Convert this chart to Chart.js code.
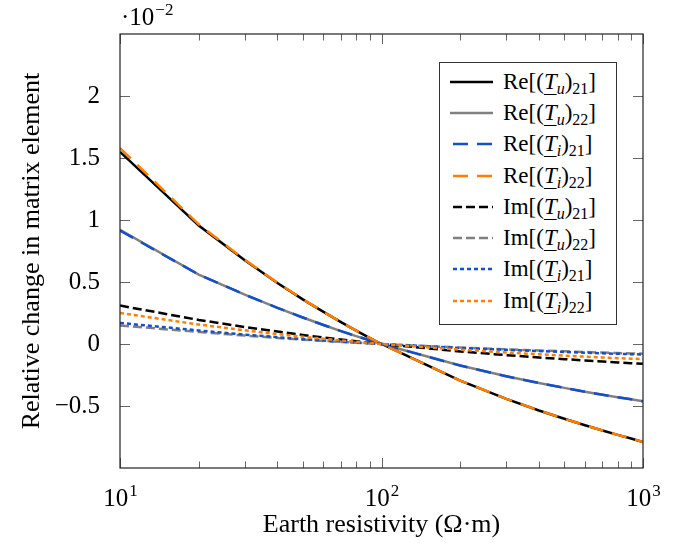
<!DOCTYPE html>
<html>
<head>
<meta charset="utf-8">
<script src="https://cdn.jsdelivr.net/npm/chart.js@4.4.1/dist/chart.umd.min.js"></script>
<style>
    html, body { margin: 0; padding: 0; background: #fff; }
    #wrap { position: relative; width: 678px; height: 543px; }
    #legend {
        position: absolute; left: 439px; top: 62px; width: 178px; height: 263px;
        box-sizing: border-box; border: 1px solid #333; background: #fff;
        font-family: 'Liberation Serif', serif; font-size: 23px; color: #000;
        padding-top: 3px; white-space: nowrap;
    }
    #legend .row { height: 31.3px; display: flex; align-items: center; }
    #legend svg { margin-left: 10px; margin-right: 10px; flex: none; }
    #legend sub { font-size: 16px; vertical-align: -5px; line-height: 0; }
    #legend u { text-decoration-thickness: 1px; text-underline-offset: 5px; }
</style>
</head>
<body>
<div id="wrap">
    <canvas id="chart" width="678" height="543"></canvas>
    <div id="legend"></div>
</div>
<script>
// Earth resistivity (Ohm m), sample points
const resistivity = [10, 20, 30, 40, 50, 60, 70, 80, 90, 100, 200, 300, 400, 500, 600, 700, 800, 900, 1000];

// relative change, x 1e-2
const reTu21 = [1.55, 0.955, 0.675, 0.492, 0.36, 0.259, 0.177, 0.108, 0.05, 0, -0.295, -0.442, -0.536, -0.603, -0.655, -0.698, -0.733, -0.762, -0.79];
const reTu22 = [0.92, 0.56, 0.398, 0.292, 0.214, 0.153, 0.104, 0.064, 0.03, 0, -0.174, -0.26, -0.315, -0.354, -0.385, -0.409, -0.429, -0.446, -0.462];
const reTi21 = [0.915, 0.56, 0.398, 0.292, 0.214, 0.153, 0.104, 0.064, 0.03, 0, -0.174, -0.26, -0.315, -0.354, -0.385, -0.409, -0.429, -0.446, -0.462];
const reTi22 = [1.58, 0.965, 0.68, 0.494, 0.361, 0.259, 0.177, 0.108, 0.05, 0, -0.295, -0.442, -0.536, -0.603, -0.655, -0.698, -0.733, -0.762, -0.79];
const imTu21 = [0.31, 0.194, 0.137, 0.1, 0.073, 0.052, 0.036, 0.022, 0.01, 0, -0.06, -0.09, -0.109, -0.122, -0.133, -0.142, -0.149, -0.155, -0.16];
const imTu22 = [0.15, 0.097, 0.068, 0.049, 0.035, 0.025, 0.017, 0.011, 0.005, 0, -0.029, -0.043, -0.052, -0.059, -0.065, -0.069, -0.073, -0.076, -0.078];
const imTi21 = [0.17, 0.109, 0.076, 0.055, 0.039, 0.028, 0.019, 0.012, 0.005, 0, -0.032, -0.047, -0.057, -0.064, -0.07, -0.075, -0.079, -0.082, -0.085];
const imTi22 = [0.25, 0.157, 0.11, 0.08, 0.058, 0.042, 0.029, 0.018, 0.008, 0, -0.046, -0.069, -0.083, -0.094, -0.102, -0.109, -0.114, -0.118, -0.121];

const xMajor = [10, 100, 1000];
const xMinor = [20, 30, 40, 50, 60, 70, 80, 90, 200, 300, 400, 500, 600, 700, 800, 900];
const yMajor = [-0.5, 0, 0.5, 1, 1.5, 2];

const BLUE = '#1450c8';
const ORANGE = '#ff8000';
const GRAY = '#808080';
const FONT = "'Liberation Serif', serif";

function series(label, values, color, dash, order) {
    return {
        label: label,
        data: resistivity.map((x, i) => ({ x: x, y: values[i] })),
        borderColor: color,
        backgroundColor: color,
        borderWidth: 2.5,
        borderDash: dash,
        pointRadius: 0,
        tension: 0,
        fill: false,
        order: order
    };
}

// later entries are drawn on top, as in the source plot
const datasets = [
    series('Re[(T_u)_21]', reTu21, '#000', [], 8),
    series('Re[(T_u)_22]', reTu22, GRAY, [], 7),
    series('Re[(T_i)_21]', reTi21, BLUE, [15, 9], 6),
    series('Re[(T_i)_22]', reTi22, ORANGE, [15, 9], 5),
    series('Im[(T_u)_21]', imTu21, '#000', [9, 4], 4),
    series('Im[(T_u)_22]', imTu22, GRAY, [9, 4], 3),
    series('Im[(T_i)_21]', imTi21, BLUE, [4, 3], 2),
    series('Im[(T_i)_22]', imTi22, ORANGE, [4, 3], 1)
];

function fmtNum(v) {
    return (v < 0 ? '\u2212' : '') + Math.abs(v);
}

// text with a raised exponent, centred or left aligned at (x, y baseline)
function powerText(ctx, base, exp, x, y, align) {
    ctx.font = '25px ' + FONT;
    const wb = ctx.measureText(base).width;
    ctx.font = '17px ' + FONT;
    const we = ctx.measureText(exp).width;
    let x0 = align === 'center' ? x - (wb + we) / 2 : x;
    ctx.textAlign = 'left';
    ctx.textBaseline = 'alphabetic';
    ctx.font = '25px ' + FONT;
    ctx.fillText(base, x0, y);
    ctx.font = '17px ' + FONT;
    ctx.fillText(exp, x0 + wb + 1, y - 10);
}

const frameTicks = {
    id: 'frameTicks',
    beforeDatasetsDraw(chart) {
        const { ctx, chartArea: a, scales: { x, y } } = chart;
        ctx.save();
        ctx.strokeStyle = '#666';
        ctx.lineWidth = 1;
        ctx.beginPath();
        xMajor.concat(xMinor).forEach(v => {
            const px = Math.round(x.getPixelForValue(v)) + 0.5;
            const len = xMajor.includes(v) ? 10 : 6.5;
            ctx.moveTo(px, a.bottom); ctx.lineTo(px, a.bottom - len);
            ctx.moveTo(px, a.top); ctx.lineTo(px, a.top + len);
        });
        yMajor.forEach(v => {
            const py = Math.round(y.getPixelForValue(v)) + 0.5;
            ctx.moveTo(a.left, py); ctx.lineTo(a.left + 10, py);
            ctx.moveTo(a.right, py); ctx.lineTo(a.right - 10, py);
        });
        ctx.stroke();
        ctx.restore();
    },
    afterDatasetsDraw(chart) {
        const { ctx, chartArea: a, scales: { x } } = chart;
        ctx.save();
        ctx.strokeStyle = '#222';
        ctx.lineWidth = 1.2;
        ctx.strokeRect(a.left, a.top, a.right - a.left, a.bottom - a.top);
        ctx.fillStyle = '#000';
        xMajor.forEach(v => {
            powerText(ctx, '10', String(Math.round(Math.log10(v))), x.getPixelForValue(v), 506, 'center');
        });
        powerText(ctx, '\u00b710', '\u22122', a.left + 1, 25, 'left');
        ctx.restore();
    }
};

new Chart(document.getElementById('chart'), {
    type: 'line',
    data: { datasets: datasets },
    options: {
        responsive: false,
        animation: false,
        layout: { padding: { top: 34, right: 35, left: 0, bottom: 0 } },
        plugins: {
            legend: { display: false },
            tooltip: { enabled: false }
        },
        scales: {
            x: {
                type: 'logarithmic',
                min: 10,
                max: 1000,
                grid: { display: false },
                border: { display: false },
                ticks: { display: false },
                afterFit: s => { s.height = 75; },
                title: {
                    display: true,
                    text: 'Earth resistivity (\u03a9\u00b7m)',
                    color: '#000',
                    font: { family: FONT, size: 26 },
                    padding: { top: 0, bottom: 2 }
                }
            },
            y: {
                min: -1,
                max: 2.5,
                grid: { display: false },
                border: { display: false },
                afterBuildTicks: s => { s.ticks = yMajor.map(v => ({ value: v })); },
                afterFit: s => { s.width = 120; },
                ticks: {
                    color: '#000',
                    padding: 12,
                    font: { family: FONT, size: 25 },
                    callback: v => fmtNum(v)
                },
                title: {
                    display: true,
                    text: 'Relative change in matrix element',
                    color: '#000',
                    font: { family: FONT, size: 26 },
                    padding: { top: 17, bottom: 0 }
                }
            }
        }
    },
    plugins: [frameTicks]
});

// html legend, built from the datasets
const legendEl = document.getElementById('legend');
datasets.forEach(ds => {
    const m = ds.label.match(/^(Re|Im)\[\(T_(\w)\)_(\d+)\]$/);
    const row = document.createElement('div');
    row.className = 'row';
    const dash = ds.borderDash.length ? ds.borderDash.join(' ') : 'none';
    row.innerHTML =
        '<svg width="43" height="6"><line x1="0" y1="3" x2="43" y2="3" stroke="' + ds.borderColor +
        '" stroke-width="2.5" stroke-dasharray="' + dash + '" stroke-dashoffset="-3"/></svg>' +
        '<span>' + m[1] + '[(<u><i>T</i></u><sub><i>' + m[2] + '</i></sub>)<sub>' + m[3] + '</sub>]</span>';
    legendEl.appendChild(row);
});
</script>
</body>
</html>
